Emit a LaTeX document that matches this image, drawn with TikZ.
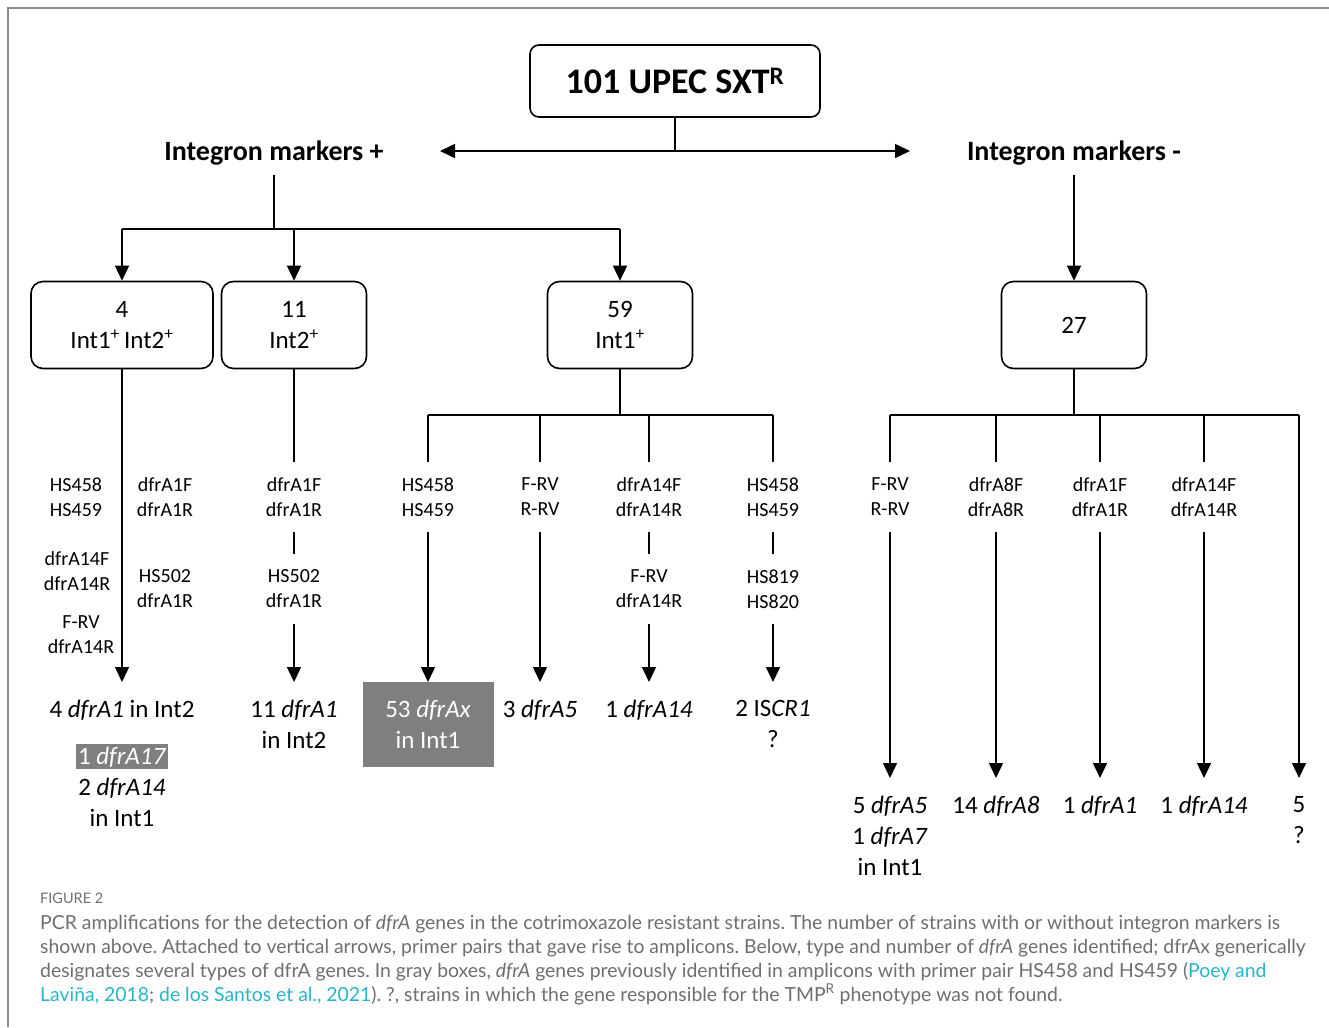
\documentclass[tikz,border=0pt]{standalone}
\usepackage{fontspec}
\setmainfont{Carlito}
\newfontfamily\capfont{Lato}
\usepackage{xcolor}
\usetikzlibrary{positioning,arrows.meta}
\definecolor{figGray}{HTML}{7F7F7F}
\definecolor{frameGray}{HTML}{8C8C8C}
\definecolor{capGray}{HTML}{6E6E6E}
\definecolor{capLink}{HTML}{27B4C9}
\newcommand{\gene}[1]{\textit{#1}}
\newcommand{\plus}{\textsuperscript{+}}
\newcommand{\reflink}[1]{\textcolor{capLink}{#1}}
\frenchspacing
\tikzset{
  topbox/.style={draw=black,line width=1.6pt,rounded corners=9pt,
    minimum width=290pt,minimum height=72pt,font=\fontsize{36}{42}\selectfont\bfseries},
  groupbox/.style={draw=black,line width=1.6pt,rounded corners=12pt,
    minimum height=87pt,align=center,font=\fontsize{25}{31}\selectfont},
  header/.style={font=\fontsize{28}{34}\selectfont\bfseries,inner ysep=10pt},
  primer/.style={align=center,font=\fontsize{20}{25}\selectfont,inner sep=0pt,minimum height=69pt},
  sidelabel/.style={align=center,font=\fontsize{20}{25}\selectfont,inner sep=0pt},
  result/.style={align=center,font=\fontsize{25}{31}\selectfont,anchor=north,
    inner xsep=0pt,inner ysep=18pt},
  grayres/.style={result,fill=figGray,text=white,minimum width=131pt},
  link/.style={line width=1.5pt,draw=black},
  arrow/.style={link,-{Triangle[length=15pt,width=14pt]}},
  twoway/.style={link,{Triangle[length=15pt,width=14pt]}-{Triangle[length=15pt,width=14pt]}}
}

\begin{document}
\begin{tikzpicture}[x=1pt,y=-1pt,node distance=6pt]
  \useasboundingbox (0,0) rectangle (1329,1027);
  % frame
  \draw[frameGray,line width=2pt] (1329,8) -- (8,8) -- (8,1027);

  % top level
  \node[topbox] (upec) at (675,81) {101 UPEC SXT\textsuperscript{R}};
  \node[header] (pos) at (274,153) {Integron markers +};
  \node[header] (neg) at (1074,153) {Integron markers -};
  \coordinate (split) at (675,151);
  \coordinate (leftTip) at (440,151);
  \coordinate (rightTip) at (910,151);
  \draw[link] (upec) -- (split);
  \draw[twoway] (leftTip) -- (rightTip);

  % groups
  \node[groupbox,minimum width=182pt] (both) at (122,325) {4\\Int1\plus\,Int2\plus};
  \node[groupbox,minimum width=145pt] (int2) at (294,325) {11\\Int2\plus};
  \node[groupbox,minimum width=145pt] (int1) at (620,325) {59\\Int1\plus};
  \node[groupbox,minimum width=145pt] (none) at (1074,325) {27};
  \coordinate (posBar) at (274,229);
  \draw[link] (pos) -- (posBar);
  \draw[link] (both.north |- posBar) -- (int1.north |- posBar);
  \foreach \n in {both,int2,int1}
    \draw[arrow] (\n.north |- posBar) -- (\n.north);
  \draw[arrow] (neg) -- (none);

  % Int1+ Int2+
  \node[sidelabel] (bothP1) at (76,497) {HS458\\HS459};
  \node[sidelabel] (bothP2) at (77,571) {dfrA14F\\dfrA14R};
  \node[sidelabel] (bothP3) at (81,635) {F-RV\\dfrA14R};
  \node[sidelabel] (bothP4) at (165,497) {dfrA1F\\dfrA1R};
  \node[sidelabel] (bothP5) at (165,589) {HS502\\dfrA1R};
  \node[result] (bothRes) at (122,682) {4 \gene{dfrA1} in Int2};
  \node[result,inner ysep=0pt] (bothRes2) at (122,744)
    {{\fboxsep=2.5pt\colorbox{figGray}{\textcolor{white}{1 \gene{dfrA17}}}}\\2 \gene{dfrA14}\\in Int1};
  \draw[arrow] (both) -- (bothRes);

  % Int2+
  \node[primer] (int2P1) at (294,497) {dfrA1F\\dfrA1R};
  \node[primer] (int2P2) at (294,589) {HS502\\dfrA1R};
  \node[result] (int2Res) at (294,682) {11 \gene{dfrA1}\\in Int2};
  \draw[link] (int2) -- (int2P1);
  \draw[link] (int2P1) -- (int2P2);
  \draw[arrow] (int2P2) -- (int2Res);

  % Int1+
  \coordinate (int1Bar) at (620,415);
  \node[primer] (int1P1) at (428,497) {HS458\\HS459};
  \node[primer] (int1P2) at (540,497) {F-RV\\R-RV};
  \node[primer] (int1P3) at (649,497) {dfrA14F\\dfrA14R};
  \node[primer] (int1P4) at (773,497) {HS458\\HS459};
  \node[primer] (int1P5) at (649,589) {F-RV\\dfrA14R};
  \node[primer] (int1P6) at (773,589) {HS819\\HS820};
  \draw[link] (int1) -- (int1Bar);
  \draw[link] (int1P1.north |- int1Bar) -- (int1P4.north |- int1Bar);
  \foreach \n in {int1P1,int1P2,int1P3,int1P4}
    \draw[link] (\n.north |- int1Bar) -- (\n.north);
  \draw[link] (int1P3) -- (int1P5);
  \draw[link] (int1P4) -- (int1P6);
  \node[grayres] (int1Res1) at (428,682) {53 \gene{dfrAx}\\in Int1};
  \node[result] (int1Res2) at (540,682) {3 \gene{dfrA5}};
  \node[result] (int1Res3) at (649,682) {1 \gene{dfrA14}};
  \node[result] (int1Res4) at (773,682) {2 IS\gene{CR1}\\?};
  \draw[arrow] (int1P1) -- (int1Res1);
  \draw[arrow] (int1P2) -- (int1Res2);
  \draw[arrow] (int1P5) -- (int1Res3);
  \draw[arrow] (int1P6) -- (int1Res4);

  % no integron markers
  \coordinate (noneBar) at (1074,415);
  \node[primer] (noneP1) at (890,497) {F-RV\\R-RV};
  \node[primer] (noneP2) at (996,497) {dfrA8F\\dfrA8R};
  \node[primer] (noneP3) at (1100,497) {dfrA1F\\dfrA1R};
  \node[primer] (noneP4) at (1204,497) {dfrA14F\\dfrA14R};
  \node[result] (noneRes1) at (890,778) {5 \gene{dfrA5}\\1 \gene{dfrA7}\\in Int1};
  \node[result] (noneRes2) at (996,778) {14 \gene{dfrA8}};
  \node[result] (noneRes3) at (1100,778) {1 \gene{dfrA1}};
  \node[result] (noneRes4) at (1204,778) {1 \gene{dfrA14}};
  \node[result] (noneRes5) at (1299,778) {5\\?};
  \draw[link] (none) -- (noneBar);
  \draw[link] (noneP1.north |- noneBar) -- (noneRes5.north |- noneBar);
  \foreach \n in {noneP1,noneP2,noneP3,noneP4}
    \draw[link] (\n.north |- noneBar) -- (\n.north);
  \foreach \n [count=\i] in {noneP1,noneP2,noneP3,noneP4}
    \draw[arrow] (\n) -- (noneRes\i);
  \draw[arrow] (noneRes5.north |- noneBar) -- (noneRes5);

  % caption
  \node[anchor=north west,inner sep=0pt,text=capGray,
    font=\capfont\fontsize{14.5}{17}\selectfont] (figLabel) at (40,893) {FIGURE 2};
  \node[anchor=north west,inner sep=0pt,align=left,text=capGray,
    font=\capfont\fontsize{19.4}{24}\selectfont] (caption) at (40,915)
    {PCR amplifications for the detection of \textit{dfrA} genes in the cotrimoxazole resistant strains. The number of strains with or without integron markers is\\
     shown above. Attached to vertical arrows, primer pairs that gave rise to amplicons. Below, type and number of \textit{dfrA} genes identified; dfrAx generically\\
     designates several types of dfrA genes. In gray boxes, \textit{dfrA} genes previously identified in amplicons with primer pair HS458 and HS459 (\reflink{Poey and}\\
     \reflink{Laviña, 2018}; \reflink{de los Santos et al., 2021}). ?, strains in which the gene responsible for the TMP\textsuperscript{R} phenotype was not found.};
\end{tikzpicture}
\end{document}
